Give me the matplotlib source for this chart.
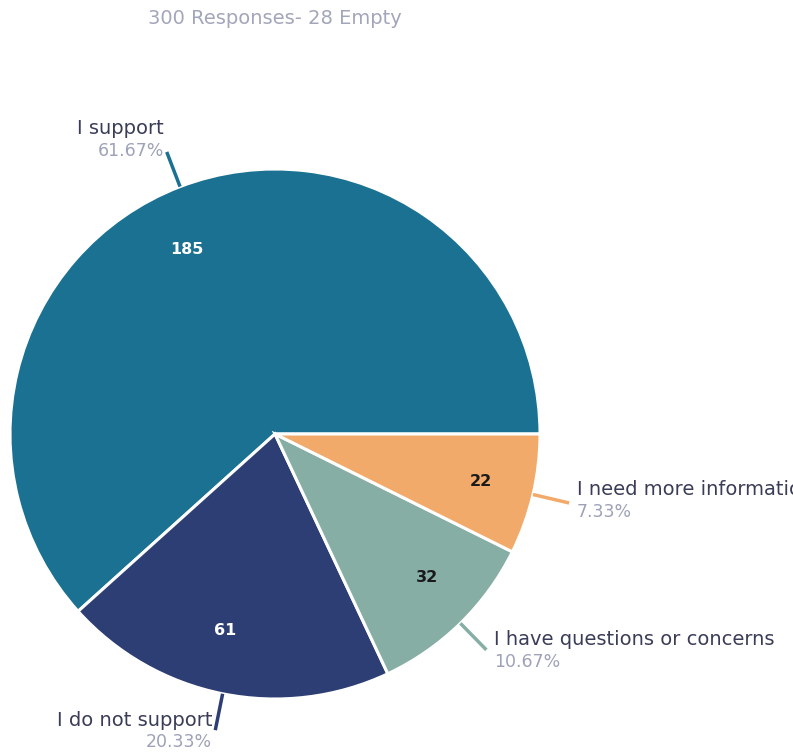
import numpy as np
import matplotlib
matplotlib.use("Agg")
import matplotlib.pyplot as plt

categories = ["I support", "I do not support", "I have questions or concerns", "I need more information"]
counts = [185, 61, 32, 22]
percent_labels = ["61.67%", "20.33%", "10.67%", "7.33%"]
colors = ["#1a7191", "#2c3e73", "#86aea5", "#f2aa6b"]
count_colors = ["white", "white", "#1a1a1a", "#1a1a1a"]
title = "300 Responses- 28 Empty"

# label placement styling (angle nudge in degrees, radius fraction, vertical shift px)
count_angle_nudge = [4.6, -2.7, 2.1, 0.3]
count_radius = [0.77, 0.766, 0.789, 0.796]
outer_shift = [13, 0, 0, 3]

W, H = 793, 755
fig = plt.figure(figsize=(W / 100, H / 100), dpi=100)
ax = fig.add_axes([0, 0, 1, 1])

cx, cy, R = 275, H - 434, 265
font = "DejaVu Sans"

wedges, _ = ax.pie(counts, colors=colors, startangle=0, counterclock=True,
                   center=(cx, cy), radius=R, frame=True,
                   wedgeprops=dict(edgecolor="white", linewidth=2.2))
ax.set_xlim(0, W)
ax.set_ylim(0, H)
ax.set_aspect("equal")
ax.axis("off")

total = sum(counts)
start = 0.0
for i, c in enumerate(counts):
    span = 360.0 * c / total
    mid_deg = start + span / 2
    start += span
    mid = np.deg2rad(mid_deg)
    ca, sa = np.cos(mid), np.sin(mid)
    la = np.deg2rad(mid_deg + count_angle_nudge[i])
    rr = count_radius[i] * R
    ax.text(cx + rr * np.cos(la), cy + rr * np.sin(la), str(c), ha="center", va="center",
            color=count_colors[i], fontsize=11.5, family=font, fontweight="bold")
    x0, y0 = cx + R * ca, cy + R * sa
    x1, y1 = cx + 1.14 * R * ca, cy + 1.14 * R * sa
    ax.plot([x0, x1], [y0, y1], color=colors[i], lw=2.5, solid_capstyle="butt")
    if ca < 0:
        tx, ha = x1 - 3, "right"
    else:
        tx, ha = x1 + 8, "left"
    ty = y1 + outer_shift[i]
    ax.text(tx, ty + 10, categories[i], ha=ha, va="center", fontsize=14,
            family=font, color="#3b3d58")
    ax.text(tx, ty - 12, percent_labels[i], ha=ha, va="center", fontsize=12.5,
            family=font, color="#9ea2b8")

fig.text(148 / W, 1 - 18 / H, title, ha="left", va="center", fontsize=14,
         family=font, color="#a3a6bb")

fig.savefig("out.png", dpi=100)
